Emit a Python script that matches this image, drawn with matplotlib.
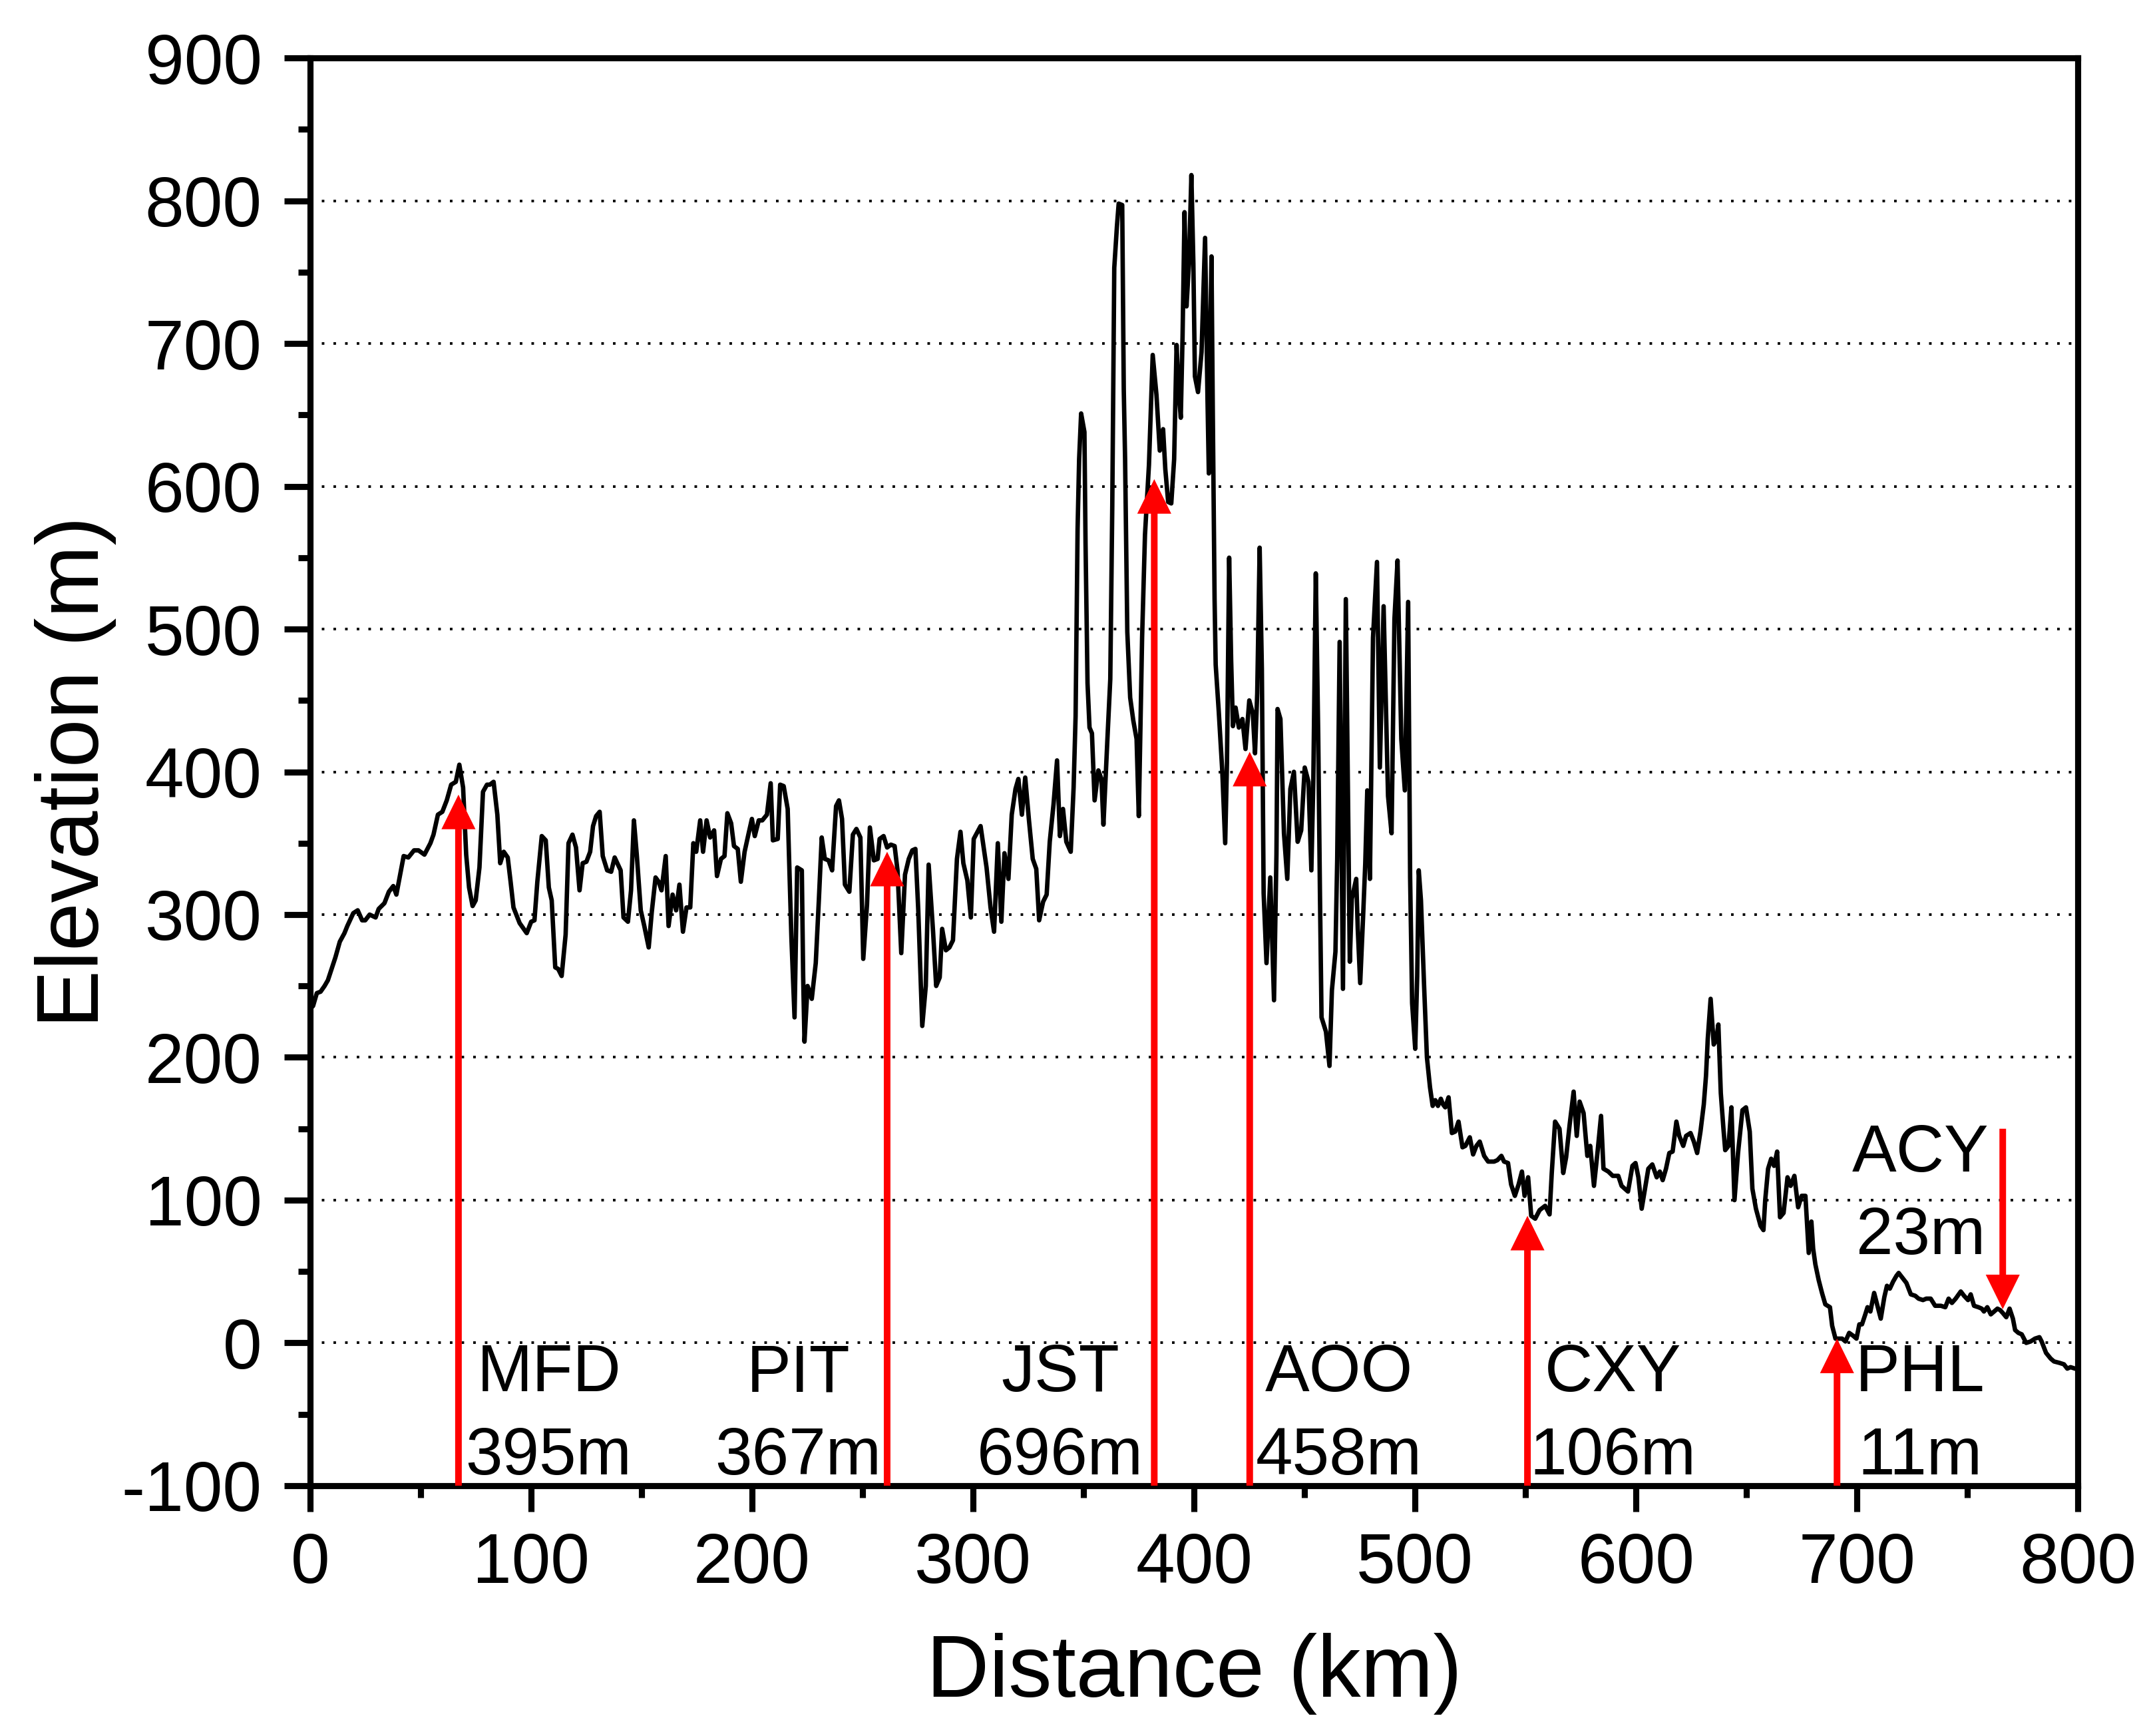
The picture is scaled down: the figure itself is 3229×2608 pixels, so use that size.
import numpy as np
import matplotlib
matplotlib.use('Agg')
import matplotlib.pyplot as plt
from matplotlib.ticker import MultipleLocator

plt.rcParams['font.family'] = ['Liberation Sans', 'DejaVu Sans']
plt.rcParams['axes.unicode_minus'] = False

# elevation profile (km, m)
dist = [0, 1.3, 3, 4.7, 6.5, 8, 11.4, 13.4, 15.5, 16.8, 19.5, 21.5, 23.5, 24.9, 26.9, 29.6, 31, 33.6, 35.6, 37.6,
        39, 42.3, 44.4, 47, 49, 51.7, 54.4, 55.8, 57.8, 59.8, 61.8, 63.8, 65.9, 67.5, 69.2, 70.6, 71.9, 73.5, 74.9,
        76.6, 78.2, 80, 81.3, 83, 84.7, 86, 87.6, 89.4, 90.7, 92, 94.8, 98, 100, 101.5, 102.8, 104.8, 106.6, 108,
        109.3, 110.9, 112.2, 113.8, 115.6, 116.9, 118.7, 120.3, 121.9, 123.3, 125, 126.7, 128, 129.4, 131, 132.4,
        134.4, 136.2, 137.8, 140.5, 141.8, 143.8, 145.2, 146.5, 147.8, 149.6, 151.2, 153.2, 154.6, 156.3, 157.7,
        159, 160.9, 162.2, 164, 165.6, 167.1, 168.7, 170.3, 172, 173.4, 174.7, 176.5, 177.8, 179.4, 181, 182.8,
        184.1, 185.9, 187.5, 188.8, 190.5, 191.8, 193.5, 194.9, 196.6, 198.3, 199.9, 201.2, 203, 204.6, 206.7,
        208.4, 209.4, 211.6, 212.7, 214.3, 216.1, 216.7, 217.8, 219.2, 220.4, 222.5, 223.1, 223.7, 225.1, 227,
        228.8, 230.2, 231.5, 232.9, 234.6, 236.2, 238, 239.3, 240.7, 242, 244, 245.6, 247.2, 249, 250.3, 252,
        253.3, 255.1, 256.8, 257.7, 259.5, 261.1, 262.8, 264.5, 265.8, 267.5, 269.2, 270.9, 272.5, 273.9, 275.2,
        277, 278.6, 279.9, 281.9, 283.3, 284.9, 286, 287.7, 289.3, 290.9, 292.7, 294.3, 295.6, 297.4, 299, 300.3,
        303.4, 306.1, 307.9, 309.5, 311.2, 312.8, 314.2, 316, 317.5, 319.2, 320.5, 322.1, 323.6, 325.3, 327,
        328.6, 329.9, 331.7, 333.3, 334.7, 336.4, 338, 339.3, 340.7, 342.2, 344.2, 345.5,
        346.4, 347.3, 348, 348.9, 350.4, 350.9, 351.8, 352.7, 353.8, 355, 356.7, 358.1, 359, 360.8, 362.1, 363,
        363.9, 365.1, 365.9, 367.5, 368.2, 368.8, 369.8, 371.1, 372.5, 374, 375, 376.5, 377.8, 379.6, 381.3, 383,
        384.5, 386, 387, 388.3, 389.7, 391, 392.1, 393, 394, 394.8, 395.7, 396.6, 397.7, 398.8, 399.7, 400.4,
        401.8, 403.4, 405, 406.1, 406.7, 407.4, 407.9, 408.5, 409.3, 409.8, 411.2, 412.8, 414.1, 414.9, 415.9,
        416.8, 417.6, 418.8, 420.3, 421.9, 423.3, 425, 426.6, 427.6, 428.6, 429.7, 430.7, 431.5, 432.8, 434.5,
        436.2, 437.3, 437.8, 439.1, 440.7, 442.2, 443.6, 445.2, 446.9, 448.5, 450.1, 451.8, 453.1, 454, 455.1,
        456.2, 457, 457.7, 459.7, 461.3, 462.4, 464, 464.8, 465.9, 467.4, 468.7, 470.5, 471.4, 473.4, 474.1,
        475.2, 476.5, 477.5, 478.4, 479.6, 481, 482.8, 484.1, 485.8, 487.8, 489.4, 490.7, 492.1, 493.8, 495.4,
        496.9, 497.8, 498.7, 500.1, 501, 501.7, 502.7, 504.1, 505.4, 506.8,
        508, 509.2, 510.4, 511.7, 512.7, 513.7, 515.2, 516.7, 518.2, 519.7, 521.5, 522.8, 524.8, 526.3, 527.8,
        529.3, 531.3, 533.1, 535.8, 537.3, 539.1, 540.3, 542.1, 543.5, 545.2, 546.9, 548.4, 549.6, 551.2, 552.6,
        554.4, 556.4, 558.9, 560.9, 561.9, 563.4, 565.4, 567.1, 568.4, 570, 571.8, 573.2, 574.5, 576.3, 578,
        579.3, 581, 582.7, 584.2, 585.3, 587.5, 589.5, 592, 593.5, 596.4, 598.4, 599.8, 601.1, 602.6, 604.1,
        605.6, 607.4, 609.4, 610.8, 612.1, 613.6, 615.1, 616.6, 618.3, 619.6, 621.4, 622.7, 624.7, 626.2, 627.7,
        629.2, 630.7, 631.7, 632.5, 633.8, 635.2, 636.3, 637.3, 638.4, 639.6, 640.4, 641.9, 643.2,
        644.6, 646.2, 648.2, 649.8, 651.5, 652.7, 654.3, 656.4, 657.7, 658.5, 659.8, 661.2, 662.5, 663.9, 665.2,
        666.8, 668.6, 670, 671.7, 673.4, 675, 676.7, 678.2, 679.4, 680.2, 681.2, 682.7, 684.2, 685.7, 687.8,
        688.8, 690.3, 691.8, 693.3, 694.8, 696.5, 698.3, 699.8, 701.1, 702.3, 703.8, 704.8, 706.1, 707.8, 709.3,
        710.8, 712.4, 713.6, 714.9, 716.4, 717.9, 718.9, 720.4, 722.4, 724.4, 726.4, 727.9, 729.9, 731.4, 733.4,
        735.4, 738, 740, 741.5, 743, 744.7, 747, 748.5, 750.3, 751.5, 753, 755, 756.5, 757.5, 759, 760.6, 762.1,
        763.6, 764.8, 766, 767.6, 769.1, 770.6, 771.6, 773.1, 774.6, 776.6, 778.6, 780.6, 782.6, 783.6, 785.6,
        787.7, 789.2, 791.7, 793.7, 795.2, 796.7, 798.7, 800]
elev = [234, 236, 245, 246, 250, 254, 270, 281, 287, 292, 301, 303, 296, 296, 300, 298, 304, 308, 316, 320,
        314, 341, 340, 345, 345, 342, 350, 356, 370, 372, 380, 391, 393, 405, 389, 342, 319, 306, 310,
        333, 386, 391, 391, 393, 370, 336, 344, 340, 323, 305, 294, 287, 295, 296, 323, 355, 352, 319,
        310, 263, 262, 257, 286, 350, 356, 347, 317, 336, 337, 344, 362, 369, 372, 341,
        331, 330, 340, 331, 298, 295, 317, 366, 342, 303, 292, 277, 302, 326, 323,
        317, 341, 292, 314, 303, 321, 288, 305, 305, 350, 344, 366, 344, 366, 354, 359,
        327, 339, 341, 371, 364, 348, 346, 323, 344, 356, 367, 355, 366, 366, 370,
        392, 352, 353, 391, 390, 374, 341, 283, 228, 333, 331, 257, 211, 250, 241,
        266, 310, 354, 339, 338, 331, 376, 380, 367, 321, 316, 356, 360, 354, 269, 307,
        361, 338, 339, 353, 355, 347, 349, 348, 331, 273, 328, 339, 345, 346, 303,
        222, 250, 335, 288, 250, 256, 290, 275, 277, 282, 339, 358, 336, 324, 298, 353,
        362, 333, 305, 288, 350, 295, 343, 325, 370, 388, 395, 370, 396, 366, 339,
        332, 296, 309, 314, 351, 377, 408, 355, 374, 351, 344, 389,
        439, 570, 619, 651, 638, 560, 462, 431, 427, 380, 401, 395, 363, 423, 465, 586,
        753, 782, 798, 797, 668, 619, 498, 452, 436, 423, 369, 494, 566, 615, 692, 664,
        625, 640, 612, 589, 588, 619, 699, 668, 648, 704, 792, 726, 756, 818, 756, 677,
        666, 694, 774, 661, 609, 710, 761, 651, 521, 475, 442, 400, 350, 406, 550,
        478, 432, 445, 431, 437, 416, 450, 441, 413, 455, 557, 472, 315, 266, 326,
        240, 342, 444, 437, 357, 325, 388, 400, 351, 359, 403, 393, 331, 395, 539,
        426, 313, 228, 218, 194, 247, 274, 339, 491, 248, 521, 267, 311, 325, 290,
        252, 298, 336, 387, 325, 494, 547, 403, 516, 383, 357, 507, 548, 423, 387,
        519, 326, 238, 206, 257, 331, 310, 251, 200, 179,
        166, 170, 166, 171, 167, 165, 172, 147, 148, 155, 137, 138, 144, 132, 138,
        141, 131, 127, 127, 128, 131, 127, 126, 111, 103, 111, 120, 103, 116, 89,
        87, 93, 96, 90, 119, 155, 150, 119, 130, 153, 176, 145, 169, 161, 131,
        138, 110, 135, 159, 122, 120, 117, 117, 110, 106, 124, 126, 116, 94, 108,
        122, 125, 116, 120, 114, 122, 133, 134, 155, 145, 138, 145, 147, 141, 133,
        148, 167, 187, 213, 241, 209, 212, 223, 175, 150, 135, 138, 165,
        100, 133, 163, 165, 148, 108, 94, 82, 79, 100, 122, 129, 124, 134, 88,
        91, 116, 110, 117, 95, 103, 103, 63, 85, 66, 55, 44, 35, 27, 25,
        12, 3, 3, 3, 1, 7, 5, 3, 13, 13, 20, 25, 22, 35, 26,
        17, 32, 40, 38, 43, 47, 49, 46, 42, 34, 33, 31, 30, 31, 31,
        26, 26, 25, 31, 28, 31, 36, 33, 30, 34, 26, 25, 24, 22, 25, 20, 22,
        24, 23, 21, 18, 24, 17, 9, 7, 6, 0, 1, 3, 4, 1, -7,
        -11, -13, -14, -15, -18, -17, -18, -18]

# airports: arrow x, arrow tip elevation, label x, name, airport elevation
ap_names = ['MFD', 'PIT', 'JST', 'AOO', 'CXY', 'PHL']
ap_heights = ['395m', '367m', '696m', '458m', '106m', '11m']
ap_x = [67.1, 261.1, 382.0, 425.2, 550.9, 691.0]
ap_tip = [384, 344, 605, 414, 89, 3]
ap_label_x = [108.0, 220.8, 339.5, 465.6, 589.6, 728.6]
# ACY arrow points down from above
acy_x, acy_top, acy_tip = 766.0, 150, 23.6
acy_label_x = 728.8

fig = plt.figure(figsize=(16.15, 13.04), dpi=200)
ax = fig.add_axes([0.1443, 0.1442, 0.8223, 0.8224])

ax.plot(dist, elev, color='black', lw=2.4, zorder=2)

for x, tip in zip(ap_x, ap_tip):
    ax.arrow(x, -100, 0, tip + 100, width=3.0, head_width=15.4, head_length=24.2,
             length_includes_head=True, color='red', lw=0, zorder=3)
ax.arrow(acy_x, acy_top, 0, acy_tip - acy_top, width=3.0, head_width=15.4, head_length=24.2,
         length_includes_head=True, color='red', lw=0, zorder=3)

for lx, n, h in zip(ap_label_x, ap_names, ap_heights):
    ax.text(lx, -34, n, ha='center', va='baseline', fontsize=36, zorder=4)
    ax.text(lx, -92, h, ha='center', va='baseline', fontsize=36, zorder=4)
ax.text(acy_label_x, 120, 'ACY', ha='center', va='baseline', fontsize=36, zorder=4)
ax.text(acy_label_x, 62, '23m', ha='center', va='baseline', fontsize=36, zorder=4)

ax.set_xlim(0, 800)
ax.set_ylim(-100, 900)
ax.xaxis.set_major_locator(MultipleLocator(100))
ax.xaxis.set_minor_locator(MultipleLocator(50))
ax.yaxis.set_major_locator(MultipleLocator(100))
ax.yaxis.set_minor_locator(MultipleLocator(50))
ax.yaxis.grid(True, which='major', linestyle=(0, (1, 3.5)), color='black', lw=1.4)
ax.set_axisbelow(True)

for s in ax.spines.values():
    s.set_linewidth(3.3)
ax.tick_params(which='both', direction='out', width=3.3, top=False, right=False)
ax.tick_params(which='major', length=14, labelsize=38)
ax.tick_params(which='minor', length=6.5)
ax.tick_params(axis='x', which='major', pad=11)
ax.tick_params(axis='y', which='major', pad=12)

ax.set_xlabel('Distance (km)', fontsize=47, labelpad=19)
ax.set_ylabel('Elevation (m)', fontsize=47, labelpad=3)

fig.savefig('out.png', dpi=200)
